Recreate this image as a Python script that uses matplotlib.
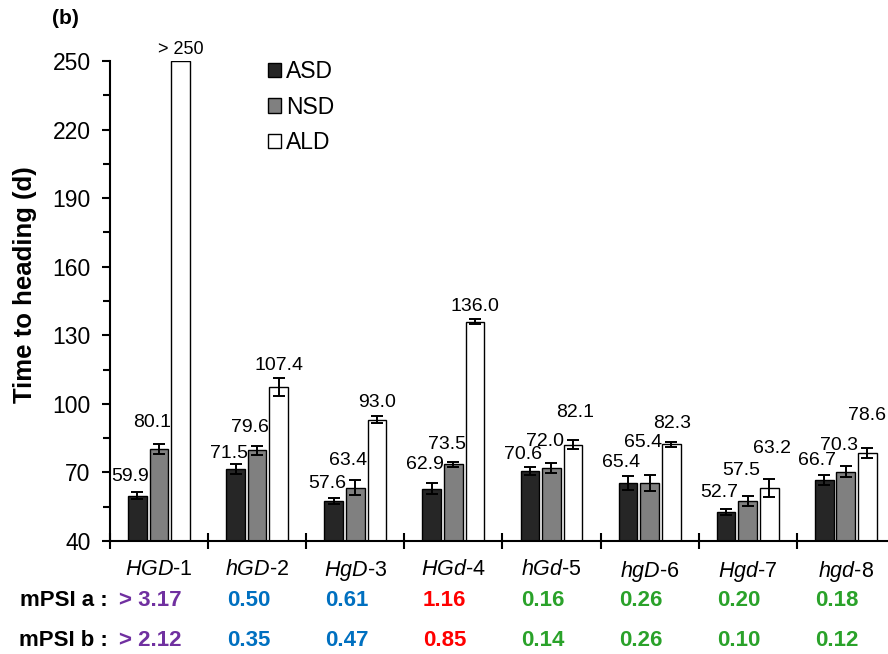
import matplotlib
matplotlib.use("Agg")
import matplotlib.pyplot as plt
import numpy as np
from matplotlib.patches import Patch

plt.rcParams['font.family'] = ['Liberation Sans', 'DejaVu Sans']
plt.rcParams['mathtext.fontset'] = 'custom'
plt.rcParams['mathtext.rm'] = 'Liberation Sans'
plt.rcParams['mathtext.it'] = 'Liberation Sans:italic'

# Data
lines = [r"$\mathit{HGD}$-1", r"$\mathit{hGD}$-2", r"$\mathit{HgD}$-3", r"$\mathit{HGd}$-4",
         r"$\mathit{hGd}$-5", r"$\mathit{hgD}$-6", r"$\mathit{Hgd}$-7", r"$\mathit{hgd}$-8"]
asd = [59.9, 71.5, 57.6, 62.9, 70.6, 65.4, 52.7, 66.7]
nsd = [80.1, 79.6, 63.4, 73.5, 72.0, 65.4, 57.5, 70.3]
ald = [250, 107.4, 93.0, 136.0, 82.1, 82.3, 63.2, 78.6]
asd_err = [1.5, 2.0, 1.2, 2.5, 1.6, 3.0, 1.2, 2.2]
nsd_err = [2.2, 2.0, 3.3, 1.1, 2.3, 3.6, 2.2, 2.5]
ald_err = [0, 4.0, 1.5, 1.0, 2.0, 1.0, 4.0, 2.3]
ald_labels = ["> 250", "107.4", "93.0", "136.0", "82.1", "82.3", "63.2", "78.6"]
mpsi_a = ["> 3.17", "0.50", "0.61", "1.16", "0.16", "0.26", "0.20", "0.18"]
mpsi_b = ["> 2.12", "0.35", "0.47", "0.85", "0.14", "0.26", "0.10", "0.12"]
mpsi_colors = ["#7030A0", "#0070C0", "#0070C0", "#FF0000",
               "#2AA22A", "#2AA22A", "#2AA22A", "#2AA22A"]

# how far each value label sits above its error bar (points)
asd_lift = [5, 2, 4, 7, 3, 3.5, 6, 4]
nsd_lift = [9.5, 7, 8, 6.5, 9, 17, 12, 9]
ald_lift = [2, 3, 4, 3, 14, 7, 16, 17]
ald_nudge = [0, 0, 0, 0, 0.02, 0.01, 0.03, 0.0]

fig = plt.figure(figsize=(8.88, 6.54), dpi=100)
ax = fig.add_axes([110 / 888, 1 - 541 / 654, 778 / 888, 480 / 654])

x = np.arange(len(lines))
w = 0.19
off = 0.22
ekw = dict(elinewidth=1.4, capthick=1.4)
series = [(asd, asd_err, "#262626", -off, "ASD"),
          (nsd, nsd_err, "#808080", 0, "NSD"),
          (ald, ald_err, "white", off, "ALD")]
for vals, errs, col, dx, name in series:
    ax.bar(x + dx, vals, w, color=col, edgecolor="black", linewidth=1.0,
           yerr=[e if e > 0 else np.nan for e in errs], capsize=4.5,
           error_kw=ekw, zorder=2, label=name)

# value labels
for i in range(len(x)):
    ax.annotate(f"{asd[i]:.1f}", (x[i] - off - 0.07, asd[i] + asd_err[i]),
                xytext=(0, asd_lift[i]), textcoords="offset points",
                ha="center", va="bottom", fontsize=14)
    ax.annotate(f"{nsd[i]:.1f}", (x[i] - 0.07, nsd[i] + nsd_err[i]),
                xytext=(0, nsd_lift[i]), textcoords="offset points",
                ha="center", va="bottom", fontsize=14)
    ax.annotate(ald_labels[i], (x[i] + off + ald_nudge[i], ald[i] + ald_err[i]),
                xytext=(0, ald_lift[i]), textcoords="offset points",
                ha="center", va="bottom", fontsize=14 if i else 13,
                annotation_clip=False)

ax.set_xlim(-0.5, 7.43)
ax.set_ylim(40, 250)
ax.set_yticks(np.arange(40, 251, 30))
ax.set_yticks(np.arange(55, 250, 30), minor=True)
ax.tick_params(axis="y", which="major", direction="out", length=6, width=1.5,
               labelsize=16.5, pad=8)
ax.tick_params(axis="y", which="minor", direction="out", length=5, width=1.5)

ax.set_xticks(np.arange(-0.5, 7.0, 1.0))
ax.set_xticklabels([])
ax.set_xticks(x, minor=True)
ax.set_xticklabels(lines, minor=True, fontsize=15.5)
ax.tick_params(axis="x", which="major", direction="inout", length=12, width=1.5)
ax.tick_params(axis="x", which="minor", length=0, pad=13)

for s in ["top", "right"]:
    ax.spines[s].set_visible(False)
ax.spines["left"].set_linewidth(1.5)
ax.spines["bottom"].set_linewidth(1.5)

ax.set_ylabel("Time to heading (d)", fontsize=18.5, fontweight="bold")
ax.yaxis.set_label_coords(-0.094, 0.534)

handles = [Patch(facecolor=c, edgecolor="black", linewidth=1.0) for c in ["#262626", "#808080", "white"]]
ax.legend(handles, ["ASD", "NSD", "ALD"], loc="upper left", bbox_to_anchor=(0.176, 1.045),
          frameon=False, fontsize=16.5, handlelength=0.6, handleheight=0.6,
          handletextpad=0.2, labelspacing=0.55)

fig.text(52 / 888, 1 - 18 / 654, "(b)", fontsize=15, fontweight="bold", va="center")

# mPSI rows
row_y = [1 - 601 / 654, 1 - 640 / 654]
for lab, vals, yy in [("mPSI a :", mpsi_a, row_y[0]), ("mPSI b :", mpsi_b, row_y[1])]:
    fig.text(108 / 888, yy, lab, fontsize=16, fontweight="bold", ha="right", va="center")
    for i, v in enumerate(vals):
        xd = ax.transData.transform((x[i] - 0.09, 40))[0]
        fig.text(xd / fig.bbox.width, yy, v, color=mpsi_colors[i], fontsize=16,
                 fontweight="bold", ha="center", va="center")

fig.savefig("out.png", dpi=100)
